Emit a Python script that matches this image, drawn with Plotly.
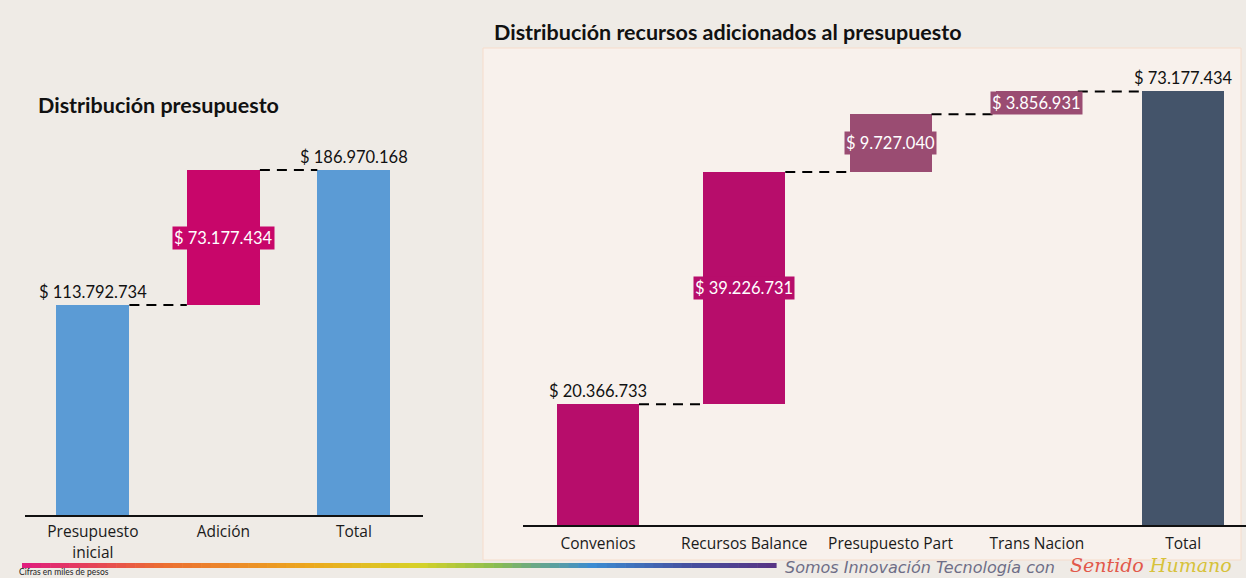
import plotly.graph_objects as go

W, H = 1246, 578

# ---------------- data ----------------
left_categories = ["Presupuesto<br>inicial", "Adición", "Total"]
left_values = [113792734, 73177434, 186970168]
left_measures = ["absolute", "relative", "total"]
left_colors = ["#5B9BD5", "#C8066A", "#5B9BD5"]

right_categories = ["Convenios", "Recursos Balance", "Presupuesto Part", "Trans Nacion", "Total"]
right_values = [20366733, 39226731, 9727040, 3856931, 73177434]
right_measures = ["absolute", "relative", "relative", "relative", "total"]
right_colors = ["#B70D6B", "#B70D6B", "#9A4C72", "#9A4C72", "#44546A"]

title_left = "Distribución presupuesto"
title_right = "Distribución recursos adicionados al presupuesto"
FONT = "Lato"


def px(x):
    return x / W


def py(y):
    return 1 - y / H


def fmt(v):
    return "$ " + f"{v:,}".replace(",", ".")


def waterfall_parts(values, measures):
    bases, heights, tops = [], [], []
    cum = 0
    for v, m in zip(values, measures):
        if m == "relative":
            bases.append(cum)
            heights.append(v)
            cum += v
        else:
            cum = v
            bases.append(0)
            heights.append(v)
        tops.append(cum)
    return bases, heights, tops


fig = go.Figure()
annotations = []
shapes = []

# right panel background
shapes.append(dict(type="rect", xref="paper", yref="paper",
                   x0=px(483), x1=px(1241), y0=py(560), y1=py(48),
                   fillcolor="#F8F1EC", line=dict(color="#F6DCCB", width=1), layer="below"))


def add_chart(cats, values, measures, colors, xa, ya, width):
    bases, heights, tops = waterfall_parts(values, measures)
    xs = list(range(len(cats)))
    fig.add_trace(go.Bar(x=xs, y=heights, base=bases, width=width,
                         marker=dict(color=colors, line=dict(width=0)),
                         xaxis=xa, yaxis=ya, hoverinfo="skip", showlegend=False))
    for i in range(len(cats) - 1):
        fig.add_trace(go.Scatter(x=[i + width / 2, i + 1 - width / 2], y=[tops[i], tops[i]],
                                 mode="lines", line=dict(color="black", width=2, dash="10px,7px"),
                                 xaxis=xa, yaxis=ya, hoverinfo="skip", showlegend=False))
    for i, (v, m) in enumerate(zip(values, measures)):
        if m == "relative":
            annotations.append(dict(x=i, y=bases[i] + heights[i] / 2, xref=xa, yref=ya,
                                    text=fmt(v), showarrow=False, bgcolor=colors[i],
                                    font=dict(family=FONT, size=16.5, color="white"),
                                    borderpad=1))
        else:
            annotations.append(dict(x=i, y=tops[i], xref=xa, yref=ya,
                                    text=fmt(v), showarrow=False, yanchor="bottom", yshift=1,
                                    font=dict(family=FONT, size=16.5, color="#111111")))


add_chart(left_categories, left_values, left_measures, left_colors, "x", "y", 0.56)
add_chart(right_categories, right_values, right_measures, right_colors, "x2", "y2", 0.56)

axis_common = dict(showgrid=False, zeroline=False, ticks="", tickangle=0,
                   tickfont=dict(family="Open Sans", size=15.5, color="#1a1a1a"),
                   showline=True, linecolor="#111111", linewidth=1.5, fixedrange=True)

fig.update_layout(
    width=W, height=H,
    margin=dict(l=0, r=0, t=0, b=0),
    paper_bgcolor="#EFEBE6",
    plot_bgcolor="rgba(0,0,0,0)",
    bargap=0,
    xaxis=dict(domain=[px(25), px(423)], range=[-0.52, 2.53],
               tickmode="array", tickvals=list(range(len(left_categories))),
               ticktext=left_categories, anchor="y", ticklabelstandoff=2, **axis_common),
    yaxis=dict(domain=[py(515), py(146)], range=[0, 200000000], visible=False, fixedrange=True),
    xaxis2=dict(domain=[px(523), 1.0], range=[-0.513, 4.43],
                tickmode="array", tickvals=list(range(len(right_categories))),
                ticktext=right_categories, anchor="y2", ticklabelstandoff=4, **axis_common),
    yaxis2=dict(domain=[py(525), py(51)], range=[0, 80000000], visible=False, fixedrange=True, anchor="x2"),
)

# titles
annotations.append(dict(x=px(36), y=py(105), xref="paper", yref="paper", xanchor="left", yanchor="middle",
                        text="<b>" + title_left + "</b>", showarrow=False,
                        font=dict(family=FONT, size=21.5, color="#111111")))
annotations.append(dict(x=px(492), y=py(32), xref="paper", yref="paper", xanchor="left", yanchor="middle",
                        text="<b>" + title_right + "</b>", showarrow=False,
                        font=dict(family=FONT, size=21.5, color="#111111")))

# footer gradient bar
stops = [(0.0, (224, 30, 125)), (0.18, (236, 110, 50)), (0.38, (236, 170, 30)),
         (0.52, (215, 210, 40)), (0.62, (140, 190, 80)), (0.75, (60, 140, 210)),
         (0.88, (70, 80, 160)), (1.0, (90, 50, 130))]


def interp(t):
    for (t0, c0), (t1, c1) in zip(stops[:-1], stops[1:]):
        if t0 <= t <= t1:
            f = (t - t0) / (t1 - t0)
            return "rgb(%d,%d,%d)" % tuple(int(a + (b - a) * f) for a, b in zip(c0, c1))
    return "rgb(%d,%d,%d)" % stops[-1][1]


x0f, x1f, n = 22, 776, 80
for k in range(n):
    a = x0f + (x1f - x0f) * k / n
    b = x0f + (x1f - x0f) * (k + 1) / n + 0.6
    shapes.append(dict(type="rect", xref="paper", yref="paper", x0=px(a), x1=px(b),
                       y0=py(568), y1=py(563), fillcolor=interp(k / n), line=dict(width=0)))

annotations.append(dict(x=px(783), y=py(567), xref="paper", yref="paper", xanchor="left", yanchor="middle",
                        text="<i>Somos Innovación Tecnología con</i>", showarrow=False,
                        font=dict(family="DejaVu Sans", size=16, color="#6E6E86")))
annotations.append(dict(x=px(1068), y=py(565), xref="paper", yref="paper", xanchor="left", yanchor="middle",
                        text="<i><span style='color:#E2584A'>Sentido</span> "
                             "<span style='color:#D7C23A'>Humano</span></i>",
                        showarrow=False, font=dict(family="DejaVu Serif", size=19)))
annotations.append(dict(x=px(18), y=0, xref="paper", yref="paper", xanchor="left", yanchor="bottom",
                        text="Cifras en miles de pesos", showarrow=False, borderpad=0,
                        font=dict(family=FONT, size=8.5, color="#222222")))

fig.update_layout(annotations=annotations, shapes=shapes)
fig.write_html("out.html")
